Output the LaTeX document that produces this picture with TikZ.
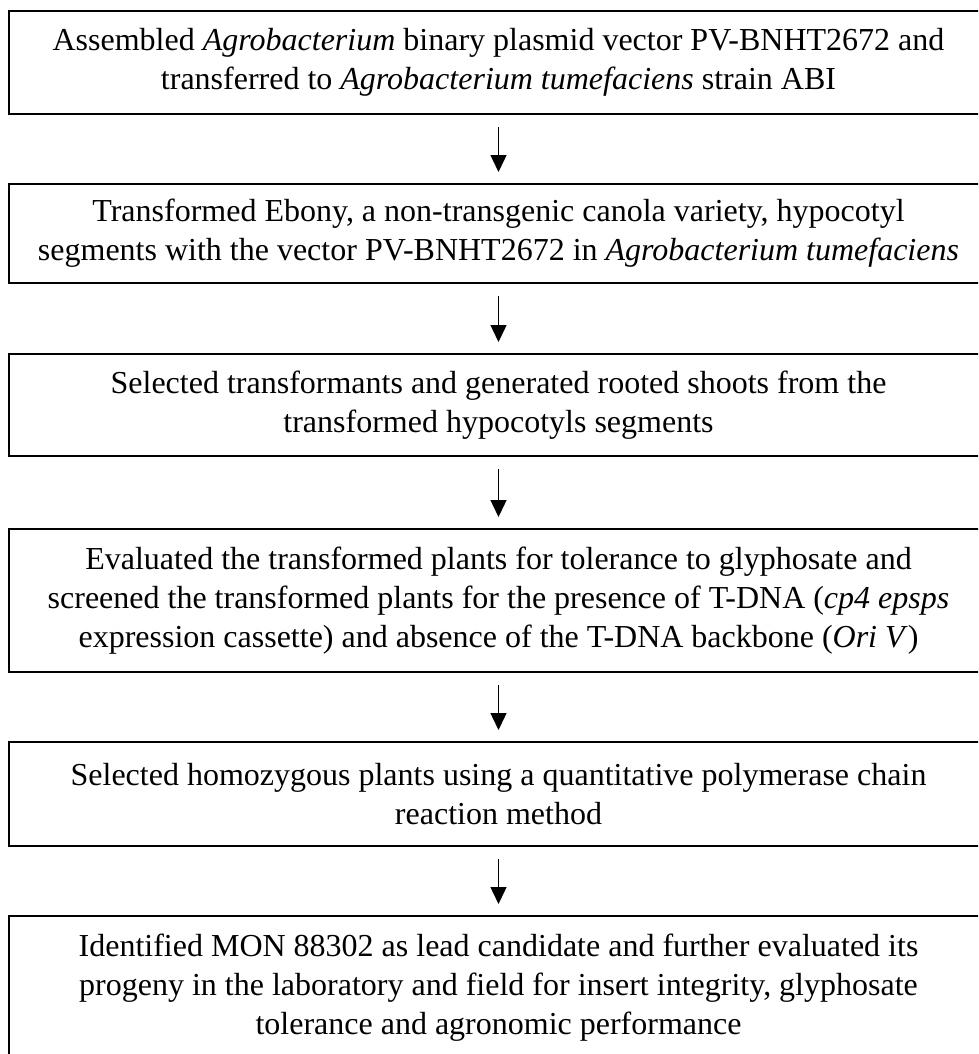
\documentclass[tikz,border=0pt]{standalone}
\usepackage{fontspec}
\setmainfont{Liberation Serif}
\usetikzlibrary{arrows.meta}
\tikzset{
  stepbox/.style={draw=black, line width=2pt, minimum width=979pt, anchor=north,
    align=center, inner sep=0pt, font=\fontsize{32}{39}\selectfont},
  flowarrow/.style={line width=1.4pt, -{Triangle[width=16pt,length=17pt]},
    shorten <=12pt, shorten >=11pt}
}
\begin{document}
\begin{tikzpicture}[x=1pt,y=-1pt]
\useasboundingbox (0,0) rectangle (978,1054);
\clip (0,0) rectangle (978,1054);
\node[stepbox, minimum height=103pt] (b1) at (498.5,10)
  {Assembled \textit{Agrobacterium} binary plasmid vector PV-BNHT2672 and\\
   transferred to \textit{Agrobacterium tumefaciens} strain ABI};
\node[stepbox, minimum height=99pt] (b2) at (498.5,183)
  {Transformed Ebony, a non-transgenic canola variety, hypocotyl\\
   segments with the vector PV-BNHT2672 in \textit{Agrobacterium tumefaciens}};
\node[stepbox, minimum height=102pt] (b3) at (498.5,353)
  {Selected transformants and generated rooted shoots from the\\
   transformed hypocotyls segments};
\node[stepbox, minimum height=143pt] (b4) at (498.5,528)
  {Evaluated the transformed plants for tolerance to glyphosate and\\
   screened the transformed plants for the presence of T-DNA (\textit{cp4 epsps}\\
   expression cassette) and absence of the T-DNA backbone (\textit{Ori V})};
\node[stepbox, minimum height=104pt] (b5) at (498.5,741)
  {Selected homozygous plants using a quantitative polymerase chain\\
   reaction method};
\node[stepbox, minimum height=144pt] (b6) at (498.5,915)
  {Identified MON 88302 as lead candidate and further evaluated its\\
   progeny in the laboratory and field for insert integrity, glyphosate\\
   tolerance and agronomic performance};
\draw[flowarrow] (b1.south) -- (b2.north);
\draw[flowarrow] (b2.south) -- (b3.north);
\draw[flowarrow] (b3.south) -- (b4.north);
\draw[flowarrow] (b4.south) -- (b5.north);
\draw[flowarrow] (b5.south) -- (b6.north);
\end{tikzpicture}
\end{document}
